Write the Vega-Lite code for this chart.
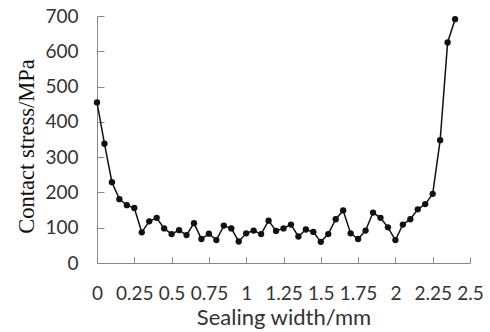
{
  "$schema": "https://vega.github.io/schema/vega-lite/v6.json",
  "autosize": "none",
  "width": 373,
  "height": 247,
  "padding": {"left": 97, "top": 16, "right": 20, "bottom": 69},
  "background": "white",
  "config": {"view": {"stroke": null}},
  "data": {"values": [
    {"w": 0.00, "s": 455}, {"w": 0.05, "s": 338}, {"w": 0.10, "s": 229}, {"w": 0.15, "s": 181},
    {"w": 0.20, "s": 164}, {"w": 0.25, "s": 156}, {"w": 0.30, "s": 87}, {"w": 0.35, "s": 118},
    {"w": 0.40, "s": 128}, {"w": 0.45, "s": 98}, {"w": 0.50, "s": 82}, {"w": 0.55, "s": 93},
    {"w": 0.60, "s": 79}, {"w": 0.65, "s": 113}, {"w": 0.70, "s": 68}, {"w": 0.75, "s": 83},
    {"w": 0.80, "s": 65}, {"w": 0.85, "s": 106}, {"w": 0.90, "s": 98}, {"w": 0.95, "s": 61},
    {"w": 1.00, "s": 84}, {"w": 1.05, "s": 92}, {"w": 1.10, "s": 82}, {"w": 1.15, "s": 120},
    {"w": 1.20, "s": 91}, {"w": 1.25, "s": 98}, {"w": 1.30, "s": 109}, {"w": 1.35, "s": 75},
    {"w": 1.40, "s": 95}, {"w": 1.45, "s": 88}, {"w": 1.50, "s": 60}, {"w": 1.55, "s": 82},
    {"w": 1.60, "s": 124}, {"w": 1.65, "s": 149}, {"w": 1.70, "s": 84}, {"w": 1.75, "s": 68},
    {"w": 1.80, "s": 92}, {"w": 1.85, "s": 143}, {"w": 1.90, "s": 128}, {"w": 1.95, "s": 101},
    {"w": 2.00, "s": 65}, {"w": 2.05, "s": 109}, {"w": 2.10, "s": 124}, {"w": 2.15, "s": 152},
    {"w": 2.20, "s": 167}, {"w": 2.25, "s": 196}, {"w": 2.30, "s": 348}, {"w": 2.35, "s": 625},
    {"w": 2.40, "s": 691}
  ]},
  "mark": {"type": "line", "color": "#111111", "strokeWidth": 1.5, "point": {"filled": true, "size": 40, "color": "#111111", "opacity": 1}},
  "encoding": {
    "x": {
      "field": "w", "type": "quantitative",
      "scale": {"domain": [0, 2.5], "nice": false, "zero": false},
      "axis": {
        "title": "Sealing width/mm",
        "values": [0, 0.25, 0.5, 0.75, 1, 1.25, 1.5, 1.75, 2, 2.25, 2.5],
        "labelExpr": "datum.value == 0 ? '0' : format(datum.value, '.4~f')",
        "grid": false,
        "domainColor": "#888888",
        "tickColor": "#888888",
        "tickSize": -6,
        "labelPadding": 27,
        "labelFont": "Lato",
        "labelFontSize": 19,
        "labelColor": "#333333",
        "labelOverlap": false,
        "labelFlush": false,
        "titleFont": "Lato",
        "titleFontSize": 22,
        "titleFontWeight": "normal",
        "titleColor": "#333333",
        "titlePadding": 4
      }
    },
    "y": {
      "field": "s", "type": "quantitative",
      "scale": {"domain": [0, 700], "nice": false},
      "axis": {
        "title": "Contact stress/MPa",
        "values": [0, 100, 200, 300, 400, 500, 600, 700],
        "grid": false,
        "domainColor": "#888888",
        "tickColor": "#888888",
        "tickSize": -7,
        "labelPadding": 26,
        "labelFont": "Lato",
        "labelFontSize": 19,
        "labelColor": "#333333",
        "labelOverlap": false,
        "labelFlush": false,
        "titleFont": "Liberation Serif",
        "titleFontSize": 22.5,
        "titleFontWeight": "normal",
        "titleColor": "#111111",
        "titlePadding": 6,
        "titleY": 130
      }
    }
  }
}
